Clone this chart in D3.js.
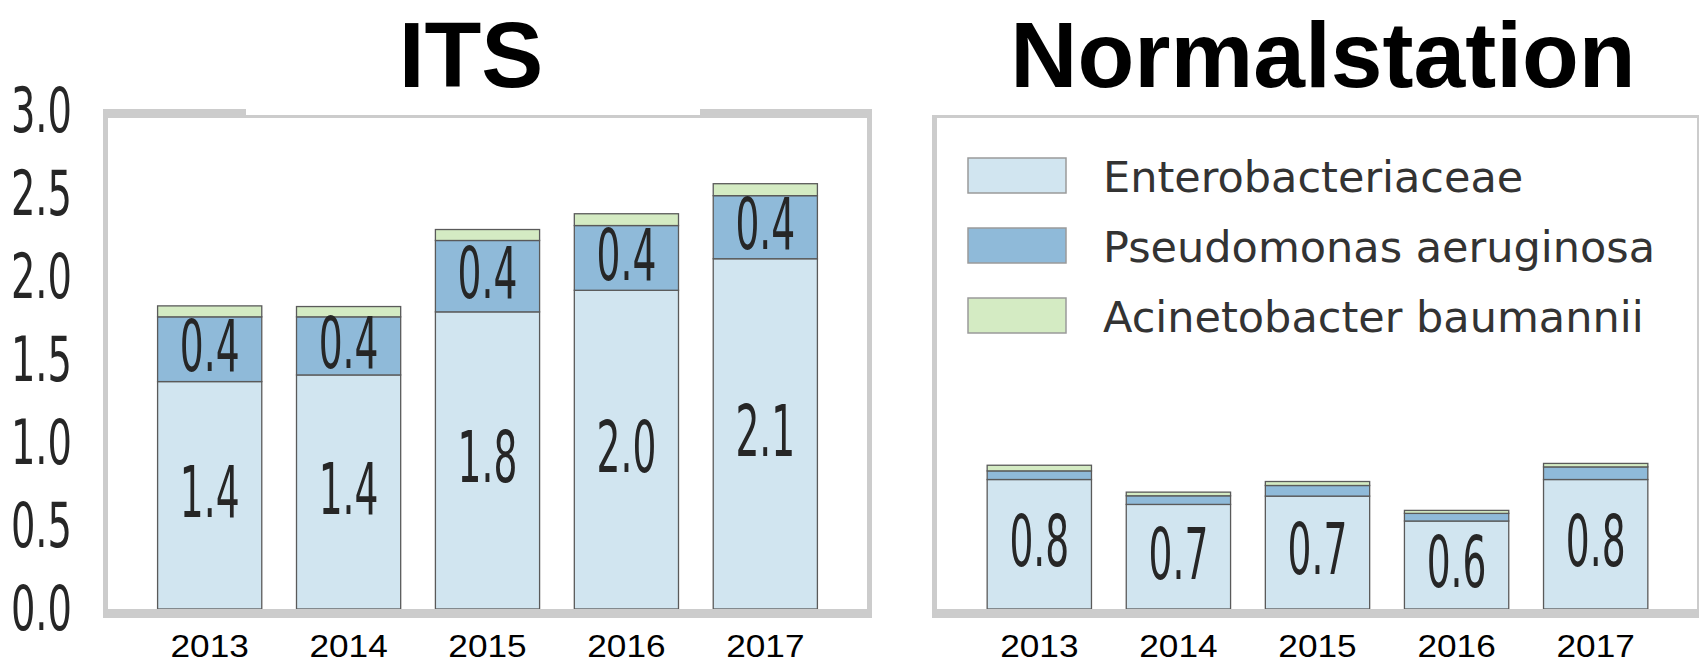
<!DOCTYPE html>
<html><head><meta charset="utf-8">
<script src="https://cdn.jsdelivr.net/npm/d3@7"></script>
<style>html,body{margin:0;padding:0;background:#fff;}svg{display:block;}</style>
</head><body>
<svg id="chart" width="1699" height="664"></svg>
<script>
const years = ["2013", "2014", "2015", "2016", "2017"];
const seriesNames = ["Enterobacteriaceae", "Pseudomonas aeruginosa", "Acinetobacter baumannii"];
const seriesColors = ["#d1e5f0", "#8fbad9", "#d4ebc3"];
const itsEntero = [1.37, 1.41, 1.79, 1.92, 2.11];
const itsPseudo = [0.39, 0.35, 0.43, 0.39, 0.38];
const itsAcin = [0.066, 0.062, 0.066, 0.071, 0.072];
const itsEnteroLabels = ["1.4", "1.4", "1.8", "2.0", "2.1"];
const itsPseudoLabels = ["0.4", "0.4", "0.4", "0.4", "0.4"];
const nsEntero = [0.78, 0.63, 0.68, 0.53, 0.78];
const nsPseudo = [0.052, 0.052, 0.064, 0.046, 0.076];
const nsAcin = [0.034, 0.022, 0.024, 0.018, 0.021];
const nsEnteroLabels = ["0.8", "0.7", "0.7", "0.6", "0.8"];
const yTicks = [0, 0.5, 1.0, 1.5, 2.0, 2.5, 3.0];
const titles = ["ITS", "Normalstation"];

const svg = d3.select("#chart");
const y = d3.scaleLinear().domain([0, 3]).range([609, 111]);
const frameColor = "#cccccc";

function panel(cfg) {
  const x = d3.scaleBand().domain(years).range([cfg.x0, cfg.x1])
    .paddingInner(0.25).paddingOuter(0.375);
  const rows = years.map((yr, i) => ({year: yr, e: cfg.e[i], p: cfg.p[i], a: cfg.a[i]}));
  const stacked = d3.stack().keys(["e", "p", "a"])(rows);
  const g = svg.append("g");
  stacked.forEach((layer, li) => {
    g.selectAll(null).data(layer).join("rect")
      .attr("x", d => x(d.data.year))
      .attr("width", x.bandwidth())
      .attr("y", d => y(d[1]))
      .attr("height", d => y(d[0]) - y(d[1]))
      .attr("fill", seriesColors[li])
      .attr("stroke", "#5a5a5a")
      .attr("stroke-width", 1.3);
  });
  // data labels
  const fs = 71, sx = 0.53;
  function label(texts, lo, hi) {
    g.selectAll(null).data(years).join("text")
      .attr("transform", (d, i) => {
        const c = (y(lo[i]) + y(hi[i])) / 2 - 4 + 0.729 * fs / 2;
        return `translate(${x(d) + x.bandwidth() / 2},${c}) scale(${sx},1)`;
      })
      .attr("text-anchor", "middle")
      .attr("font-family", "DejaVu Sans")
      .attr("font-size", fs)
      .attr("fill", "#262626")
      .text((d, i) => texts[i]);
  }
  label(cfg.eLabels, years.map(() => 0), cfg.e);
  if (cfg.pLabels) label(cfg.pLabels, cfg.e, cfg.e.map((v, i) => v + cfg.p[i]));
  // x tick labels
  g.selectAll(null).data(years).join("text")
    .attr("transform", d => `translate(${x(d) + x.bandwidth() / 2},657) scale(1.1,1)`)
    .attr("text-anchor", "middle")
    .attr("font-family", "Liberation Sans, Arial, sans-serif")
    .attr("font-size", 32)
    .attr("fill", "#000")
    .text(d => d);
  // frame
  const f = svg.append("g");
  f.append("rect").attr("x", cfg.fl).attr("y", 109).attr("width", cfg.fr - cfg.fl).attr("height", 9).attr("fill", frameColor);
  f.append("rect").attr("x", cfg.fl).attr("y", 609).attr("width", cfg.fr - cfg.fl).attr("height", 9).attr("fill", frameColor);
  f.append("rect").attr("x", cfg.fl).attr("y", 109).attr("width", 5).attr("height", 509).attr("fill", frameColor);
  f.append("rect").attr("x", cfg.fr - 5).attr("y", 109).attr("width", 5).attr("height", 509).attr("fill", frameColor);
  // title with white background
  svg.append("rect").attr("x", cfg.tb0).attr("y", 0).attr("width", cfg.tb1 - cfg.tb0).attr("height", 115).attr("fill", "#fff");
  svg.append("text")
    .attr("x", cfg.tx).attr("y", 87)
    .attr("text-anchor", "middle")
    .attr("font-family", "Liberation Sans, Arial, sans-serif")
    .attr("font-weight", "bold")
    .attr("font-size", 93)
    .attr("fill", "#000")
    .text(cfg.title);
}

panel({x0: 105.5, x1: 869.5, e: itsEntero, p: itsPseudo, a: itsAcin,
  eLabels: itsEnteroLabels, pLabels: itsPseudoLabels,
  fl: 103, fr: 872, tb0: 246, tb1: 700, tx: 471, title: titles[0]});
panel({x0: 935, x1: 1700, e: nsEntero, p: nsPseudo, a: nsAcin,
  eLabels: nsEnteroLabels, pLabels: null,
  fl: 932, fr: 1702, tb0: 931, tb1: 1699, tx: 1323, title: titles[1]});

// y axis tick labels (left only)
const tfs = 63, tsx = 0.61;
svg.append("g").selectAll("text").data(yTicks).join("text")
  .attr("transform", d => `translate(72,${y(d) - 2 + 0.729 * tfs / 2}) scale(${tsx},1)`)
  .attr("text-anchor", "end")
  .attr("font-family", "DejaVu Sans")
  .attr("font-size", tfs)
  .attr("fill", "#262626")
  .text(d => d3.format(".1f")(d));

// legend
const lg = svg.append("g");
seriesNames.forEach((name, i) => {
  const top = 158 + i * 70;
  lg.append("rect").attr("x", 968).attr("y", top).attr("width", 98).attr("height", 35)
    .attr("fill", seriesColors[i]).attr("stroke", "#9a9a9a").attr("stroke-width", 1.5);
  lg.append("text").attr("x", 1103).attr("y", top + 34)
    .attr("font-family", "DejaVu Sans").attr("font-size", 43)
    .attr("fill", "#333").text(name);
});
</script>
</body></html>
